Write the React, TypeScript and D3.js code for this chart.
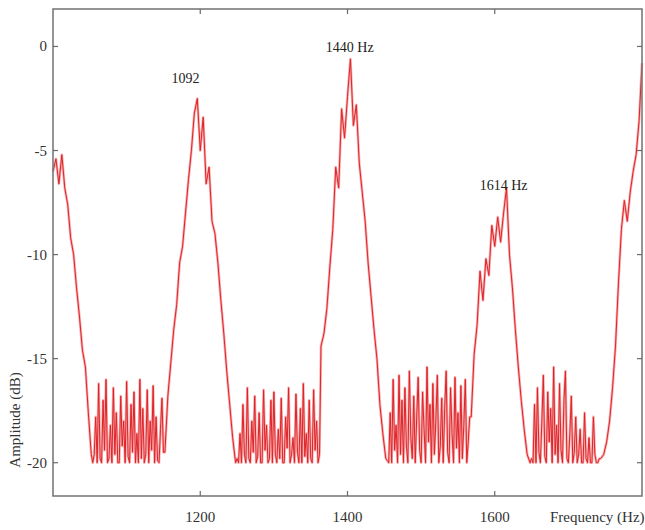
import React, { useEffect, useRef } from "react";
import * as d3 from "d3";

// spectrum (dB); each piece has its own start frequency and bin step
const leftEdge = [-6.0, -5.4, -6.6, -5.2, -6.8, -7.6, -9.2, -10.0, -11.6, -13.0, -14.6, -15.4, -17.6, -19.6];
const noiseA = [
    -20, -19.6, -17.8, -20, -16.2, -19.8, -20, -17.0, -19.4, -16.0,
    -20, -19.8, -18.2, -20, -16.4, -19.6, -17.6, -20, -20, -16.8,
    -19.2, -18.0, -20, -16.1, -19.7, -20, -17.2, -19.5, -16.6, -20,
    -18.6, -20, -16.0, -19.8, -17.4, -20, -19.6, -16.5, -20, -18.0,
    -19.4, -16.3, -20, -17.8, -19.9, -20, -18.4, -16.9, -19.5,
];
const peak1092 = [-19.5, -16.8, -15.2, -13.6, -12.4, -10.4, -9.6, -8.0, -6.4, -5.0, -3.2, -2.5, -5.0, -3.4, -6.6, -5.8, -8.4, -9.0, -10.4, -12.2, -13.8, -15.6, -17.2, -18.8, -20];
const noiseB = [
    -19.8, -20, -18.6, -20, -17.2, -19.6, -20, -16.4, -19.8, -20,
    -18.0, -19.5, -16.8, -20, -19.7, -17.6, -20, -20, -16.5, -19.4,
    -18.2, -20, -19.8, -17.0, -20, -16.6, -19.6, -20, -18.4, -19.8,
    -16.9, -20, -20, -17.8, -19.3, -16.4, -20, -19.6, -18.8, -20,
    -16.7, -19.5, -20, -17.4, -20, -16.2, -19.7, -18.6, -20, -17.0,
    -19.8, -20, -16.5, -19.4, -18.0, -20, -19.6,
];
const peak1440 = [-14.4, -13.8, -12.6, -10.6, -8.8, -5.8, -6.8, -3.0, -4.4, -2.4, -0.6, -3.8, -2.8, -5.6, -7.0, -8.4, -10.4, -12.0, -13.6, -15.0, -17.2, -18.6, -19.8];
const noiseC = [
    -19.9, -20, -17.6, -20, -16.0, -19.4, -18.2, -20, -15.8, -19.6,
    -17.0, -20, -16.4, -19.2, -20, -15.6, -18.8, -19.8, -16.8, -20,
    -17.8, -15.9, -19.4, -20, -16.6, -18.4, -20, -15.4, -19.0, -17.2,
    -20, -16.2, -19.6, -18.0, -15.8, -20, -19.2, -16.9, -20, -17.4,
    -15.6, -19.5, -20, -16.4, -18.6, -20, -15.9, -19.3, -17.6, -20,
    -16.3, -19.8, -18.2, -16.0, -20, -19.0, -17.8,
];
const peak1614 = [-17.8, -14.8, -13.4, -10.8, -12.2, -10.2, -11.0, -8.6, -9.6, -8.2, -9.4, -8.0, -6.8, -10.0, -11.6, -13.6, -15.4, -17.0, -18.4, -19.6, -20];
const noiseD = [
    -19.8, -20, -17.2, -20, -16.4, -19.5, -20, -18.0, -15.8, -19.7,
    -20, -16.6, -19.0, -17.4, -20, -15.4, -19.6, -18.2, -20, -16.2,
    -19.4, -20, -17.0, -15.6, -19.8, -20, -18.6, -16.8, -20, -19.5,
    -17.8, -20, -19.6, -18.4, -20, -20, -17.6, -19.8, -20, -18.8,
    -20, -20, -17.8, -19.6, -20, -20, -19.8,
];
const rightEdge = [-19.8, -19.6, -19.0, -18.0, -16.4, -14.4, -11.4, -8.8, -7.4, -8.4, -7.0, -6.0, -5.2, -3.6, -0.8];

// start frequency (Hz) and bin step (Hz) of each piece
const pieces: [number, number, number[]][] = [
    [1000, 4, leftEdge],
    [1054, 2, noiseA],
    [1152, 4, peak1092],
    [1250, 2, noiseB],
    [1364, 4, peak1440],
    [1454, 2, noiseC],
    [1568, 4, peak1614],
    [1650, 2, noiseD],
    [1744, 4, rightEdge],
];

const xTicks = [1200, 1400, 1600];
const yTicks = [0, -5, -10, -15, -20];

const peakLabels = [
    { text: "1092", f: 1180, db: -1.75 },
    { text: "1440 Hz", f: 1403, db: -0.25 },
    { text: "1614 Hz", f: 1612, db: -6.9 },
];

export default function App() {
    const ref = useRef<SVGSVGElement>(null);

    useEffect(() => {
        const data = pieces.flatMap(([start, step, vals]) =>
            vals.map((a, i) => ({ f: start + i * step, a })));

        const width = 645, height = 530;
        const box = { left: 53, right: 642, top: 9, bottom: 496 };
        const font = "'Liberation Serif', 'Times New Roman', serif";

        const svg = d3.select(ref.current);
        svg.selectAll("*").remove();
        svg.attr("width", width).attr("height", height);

        svg.append("rect").attr("width", width).attr("height", height).attr("fill", "#fff");

        const x = d3.scaleLinear().domain([1000, 1800]).range([box.left, box.right]);
        const y = d3.scaleLinear().domain([-21.6, 1.8]).range([box.bottom, box.top]);

        const line = d3.line<{ f: number; a: number }>()
            .x(d => x(d.f))
            .y(d => y(d.a));

        // soft halo then the trace itself
        svg.append("path")
            .datum(data)
            .attr("fill", "none")
            .attr("stroke", "#f8b0b0")
            .attr("stroke-width", 2.6)
            .attr("stroke-linejoin", "round")
            .attr("d", line);
        svg.append("path")
            .datum(data)
            .attr("fill", "none")
            .attr("stroke", "#de2329")
            .attr("stroke-width", 1)
            .attr("d", line);

        // frame
        svg.append("rect")
            .attr("x", box.left)
            .attr("y", box.top)
            .attr("width", box.right - box.left)
            .attr("height", box.bottom - box.top)
            .attr("fill", "none")
            .attr("stroke", "#7a7a7a")
            .attr("stroke-width", 1.6);

        const tick = 5;
        const g = svg.append("g").attr("stroke", "#6a6a6a").attr("stroke-width", 1.2);
        xTicks.forEach(t => {
            g.append("line").attr("x1", x(t)).attr("x2", x(t)).attr("y1", box.bottom).attr("y2", box.bottom - tick);
            g.append("line").attr("x1", x(t)).attr("x2", x(t)).attr("y1", box.top).attr("y2", box.top + tick);
        });
        yTicks.forEach(t => {
            g.append("line").attr("x1", box.left).attr("x2", box.left + tick).attr("y1", y(t)).attr("y2", y(t));
            g.append("line").attr("x1", box.right).attr("x2", box.right - tick).attr("y1", y(t)).attr("y2", y(t));
        });

        svg.append("g")
            .selectAll("text")
            .data(xTicks)
            .join("text")
            .attr("x", d => x(d))
            .attr("y", 522)
            .attr("text-anchor", "middle")
            .attr("font-family", font)
            .attr("font-size", 15)
            .attr("fill", "#333")
            .text(d => d);

        svg.append("g")
            .selectAll("text")
            .data(yTicks)
            .join("text")
            .attr("x", 47)
            .attr("y", d => y(d) + 5)
            .attr("text-anchor", "end")
            .attr("font-family", font)
            .attr("font-size", 15)
            .attr("fill", "#333")
            .text(d => d);

        svg.append("text")
            .attr("x", 550)
            .attr("y", 522)
            .attr("font-family", font)
            .attr("font-size", 15)
            .attr("fill", "#333")
            .text("Frequency (Hz)");

        svg.append("text")
            .attr("transform", "translate(20,420) rotate(-90)")
            .attr("text-anchor", "middle")
            .attr("font-family", font)
            .attr("font-size", 15)
            .attr("fill", "#333")
            .text("Amplitude (dB)");

        svg.append("g")
            .selectAll("text")
            .data(peakLabels)
            .join("text")
            .attr("x", d => x(d.f))
            .attr("y", d => y(d.db))
            .attr("text-anchor", "middle")
            .attr("font-family", font)
            .attr("font-size", 14)
            .attr("fill", "#222")
            .text(d => d.text);
    }, []);

    return <svg ref={ref} style={{ position: "absolute", left: 0, top: 0 }}></svg>;
}
